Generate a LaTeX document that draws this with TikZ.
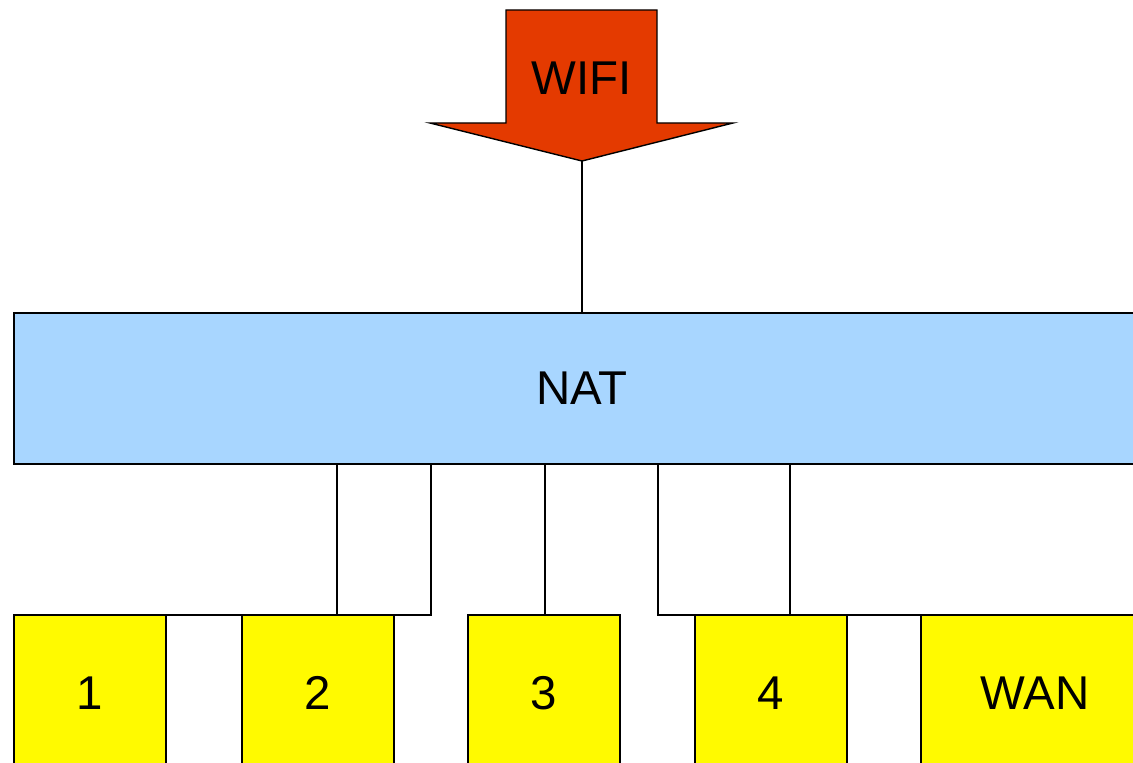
\documentclass[tikz,border=0pt]{standalone}
\usepackage{fontspec}
\setmainfont{Liberation Sans}
\definecolor{natblue}{RGB}{168,214,255}
\definecolor{portyellow}{RGB}{255,250,0}
\definecolor{wifired}{RGB}{228,58,0}
\begin{document}
\begin{tikzpicture}[x=0.02cm,y=-0.02cm,
  txt/.style={font=\fontsize{27}{31}\selectfont, text=black},
  portbox/.style={draw=black, line width=1pt, fill=portyellow, minimum width=3.04cm, minimum height=3.12cm, inner sep=0pt, outer sep=0pt, anchor=north west, txt},
  natbox/.style={draw=black, line width=1pt, fill=natblue, minimum width=22.72cm, minimum height=3.02cm, inner sep=0pt, outer sep=0pt, txt},
  wire/.style={draw=black, line width=0.6pt}]
\useasboundingbox (0,0) rectangle (1133,763);
% NAT
\node[natbox] (nat) at (582,388.5) {NAT};
% ports
\node[portbox] (p1) at (14,615) {1};
\node[portbox] (p2) at (242,615) {2};
\node[portbox] (p3) at (468,615) {3};
\node[portbox] (p4) at (695,615) {4};
\node[portbox, minimum width=4.56cm] (wan) at (921,615) {WAN};
% top line bridging gaps
\draw[wire, line width=1pt] (p1.north east) -- (p2.north west);
\draw[wire, line width=1pt] (p4.north east) -- (wan.north west);
% WIFI arrow
\coordinate (tip) at (582,161);
\filldraw[fill=wifired, draw=black, line width=0.8pt]
  (506,10) -- (657,10) -- (657,123) -- (733,123) -- (tip) -- (430,123) -- (506,123) -- cycle;
\node[txt] (wifi) at (582,78) {WIFI};
% connectors
\draw[wire] (tip) -- (nat.north);
\coordinate (a1) at (337,464);
\coordinate (a2) at (431,464);
\coordinate (a3) at (545,464);
\coordinate (a4) at (658,464);
\coordinate (a5) at (790,464);
\draw[wire] (a1) -- (a1 |- p2.north) -- (a2 |- p2.north) -- (a2);
\draw[wire] (a3) -- (a3 |- p3.north);
\draw[wire] (a4) -- (a4 |- p4.north) -- (a5 |- p4.north) -- (a5);
\end{tikzpicture}
\end{document}
